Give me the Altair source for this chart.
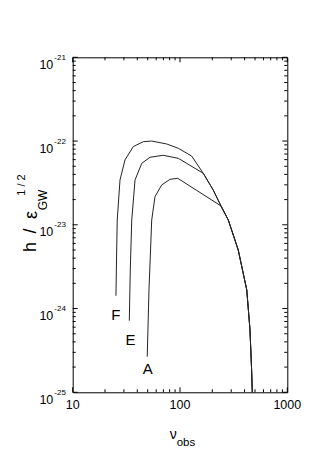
import altair as alt
import pandas as pd

# ---- data ----
tail_x = [241, 282, 349, 419, 449, 465, 472]
tail_y = [1.68e-23, 1.14e-23, 5.0e-24, 1.67e-24, 5.6e-25, 1.85e-25, 1.0e-25]

f_x = [25.3, 25.6, 26.0, 27.6, 30.7, 36.7, 45.5, 54.5, 75.1, 96.4, 128.5, 164.8, 204]
f_y = [1.42e-24, 3.8e-24, 1.14e-23, 3.43e-23, 5.95e-23, 8.58e-23, 9.83e-23, 1.0e-22,
       9.23e-23, 8.19e-23, 6.62e-23, 4.12e-23, 2.6e-23]

e_x = [33.7, 34.4, 35.5, 38.1, 44.0, 52.5, 69.8, 96.4, 164.8, 204]
e_y = [7.16e-25, 2.88e-24, 1.14e-23, 3.43e-23, 5.42e-23, 6.4e-23, 6.76e-23, 6.22e-23,
       4.12e-23, 2.6e-23]

a_x = [49.5, 51.4, 54.5, 58.5, 67.5, 80.7, 95.3]
a_y = [2.66e-25, 1.67e-24, 1.14e-23, 2.17e-23, 2.99e-23, 3.49e-23, 3.59e-23]

curve_names = ["F", "E", "A"]
label_x = [25.2, 34.6, 50.1]
label_y = [8.45e-25, 4.16e-25, 1.91e-25]

x_major = [10, 100, 1000]
x_major_text = ["10", "100", "1000"]
x_minor = [20, 30, 40, 50, 60, 70, 80, 90, 200, 300, 400, 500, 600, 700, 800, 900]
y_major = [1e-25, 1e-24, 1e-23, 1e-22, 1e-21]
y_exp_text = ["-25", "-24", "-23", "-22", "-21"]
y_minor = [m * 10.0 ** e for e in (-25, -24, -23, -22) for m in range(2, 10)]

# ---- tables ----
rows = []
for name, xs, ys in (("F", f_x, f_y), ("E", e_x, e_y), ("A", a_x, a_y)):
    for i, (xv, yv) in enumerate(list(zip(xs, ys)) + list(zip(tail_x, tail_y))):
        rows.append({"curve": name, "i": i, "nu": xv, "h": yv})
curves = pd.DataFrame(rows)
labels = pd.DataFrame({"name": curve_names, "nu": label_x, "h": label_y})
xmaj = pd.DataFrame({"v": x_major, "t": x_major_text})
xmin = pd.DataFrame({"v": x_minor})
ymaj = pd.DataFrame({"v": y_major, "t": ["10"] * len(y_major), "e": y_exp_text})
ymin = pd.DataFrame({"v": y_minor})
dummy = pd.DataFrame({"a": [0]})

W, H = 214.6, 335
FONT = "Liberation Sans"
MAJ, MIN = 5, 3

xs = alt.Scale(type="log", domain=[10, 1000])
ys = alt.Scale(type="log", domain=[1e-25, 1e-21])

def X(f):
    return alt.X(f, type="quantitative", scale=xs, axis=None)

def Y(f):
    return alt.Y(f, type="quantitative", scale=ys, axis=None)

lines = alt.Chart(curves).mark_line(color="#222", strokeWidth=1).encode(
    x=X("nu"), y=Y("h"), detail="curve:N", order="i:Q")

letters = alt.Chart(labels).mark_text(fontSize=15, font=FONT, color="black",
                                      baseline="middle", align="center").encode(
    x=X("nu"), y=Y("h"), text="name:N")

rule = dict(color="black", strokeWidth=1)
ticks = [
    alt.Chart(xmaj).mark_rule(**rule).encode(x=X("v"), y=alt.value(H), y2=alt.value(H - MAJ)),
    alt.Chart(xmaj).mark_rule(**rule).encode(x=X("v"), y=alt.value(0), y2=alt.value(MAJ)),
    alt.Chart(xmin).mark_rule(**rule).encode(x=X("v"), y=alt.value(H), y2=alt.value(H - MIN)),
    alt.Chart(xmin).mark_rule(**rule).encode(x=X("v"), y=alt.value(0), y2=alt.value(MIN)),
    alt.Chart(ymaj).mark_rule(**rule).encode(y=Y("v"), x=alt.value(0), x2=alt.value(MAJ)),
    alt.Chart(ymaj).mark_rule(**rule).encode(y=Y("v"), x=alt.value(W), x2=alt.value(W - MAJ)),
    alt.Chart(ymin).mark_rule(**rule).encode(y=Y("v"), x=alt.value(0), x2=alt.value(MIN)),
    alt.Chart(ymin).mark_rule(**rule).encode(y=Y("v"), x=alt.value(W), x2=alt.value(W - MIN)),
]

xlab = alt.Chart(xmaj).mark_text(fontSize=12.5, font=FONT, color="black",
                                 align="center", baseline="alphabetic").encode(
    x=X("v"), y=alt.value(H + 16.7), text="t:N")
ylab10 = alt.Chart(ymaj).mark_text(fontSize=12.5, font=FONT, color="black",
                                   align="right", baseline="alphabetic", dy=11.7).encode(
    y=Y("v"), x=alt.value(-19.4), text="t:N")
ylabexp = alt.Chart(ymaj).mark_text(fontSize=8, font=FONT, color="black",
                                    align="left", baseline="alphabetic", dy=2.7).encode(
    y=Y("v"), x=alt.value(-18.4), text="e:N")

def note(txt, x, y, size, angle=0, align="center", baseline="alphabetic"):
    return alt.Chart(dummy).mark_text(text=txt, fontSize=size, font=FONT, color="black",
                                      angle=angle, align=align, baseline=baseline).encode(
        x=alt.value(x), y=alt.value(y))

titles = [
    note("ν", 100.6, 381.7, 14),
    note("obs", 104, 388.7, 11.5, align="left"),
    note("h", -36.7, 189.7, 18, angle=270),
    note("/", -36.7, 173.7, 18, angle=270),
    note("ε", -35.7, 157.7, 18, angle=270),
    note("GW", -25.7, 142.7, 12, angle=270),
    note("1 / 2", -47.7, 127.7, 11, angle=270),
]

chart = alt.layer(lines, letters, *ticks, xlab, ylab10, ylabexp, *titles).properties(
    width=W, height=H,
    autosize=alt.AutoSizeParams(type="none"),
    padding={"left": 64.7, "top": 49.3, "right": 38, "bottom": 55},
).configure_view(stroke="black", strokeWidth=1)

chart.save("out.html", embed_options={"renderer": "svg", "actions": False})
